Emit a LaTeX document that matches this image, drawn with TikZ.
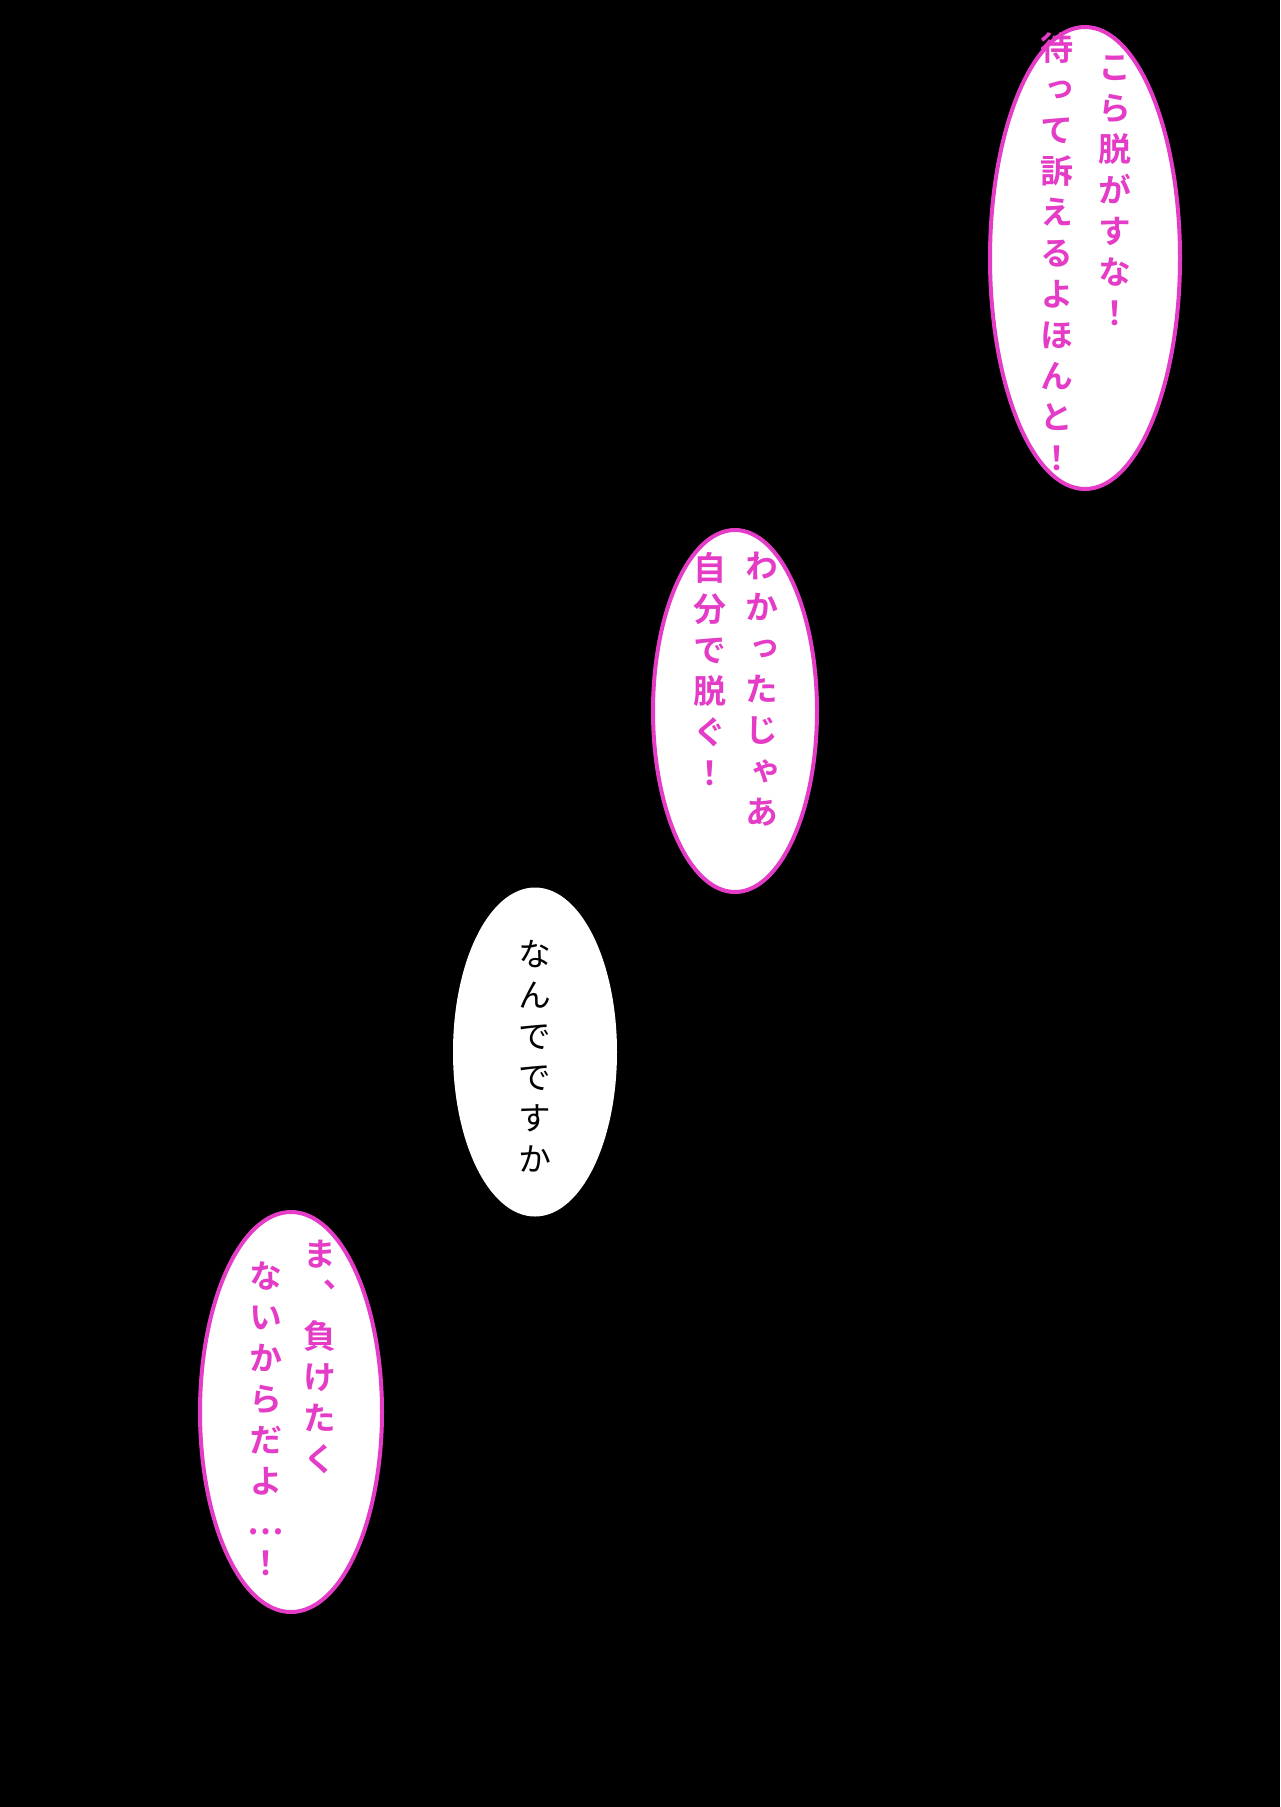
\documentclass[tikz,border=0pt]{standalone}
\usepackage{fontspec}
\newfontfamily\cjkb[RawFeature=+vert]{Noto Sans CJK JP Bold}
\newfontfamily\cjkr[RawFeature=+vert]{Noto Sans CJK JP}
\definecolor{pk}{HTML}{E43CC6}
\tikzset{
 bub/.style={draw=pk,line width=4pt,fill=white,ellipse,minimum width=#1},
 col/.style={anchor=north,align=center,inner sep=0pt,font=\cjkb\fontsize{33}{41}\selectfont,text=pk},
 colk/.style={anchor=north,align=center,inner sep=0pt,font=\cjkr\fontsize{33}{41}\selectfont,text=black}
}
\usetikzlibrary{shapes.geometric}
\begin{document}
\begin{tikzpicture}[x=1pt,y=-1pt]
\fill[black] (0,0) rectangle (1280,1807);
\useasboundingbox (0,0) rectangle (1280,1807);
\node[draw=pk,line width=4pt,fill=white,ellipse,minimum width=190pt,minimum height=462pt,inner sep=0pt] (b1) at (1085,258) {};
\node[draw=pk,line width=4pt,fill=white,ellipse,minimum width=164pt,minimum height=362pt,inner sep=0pt] (b2) at (735,711) {};
\node[draw=white,line width=4pt,fill=white,ellipse,minimum width=160pt,minimum height=325pt,inner sep=0pt] (b3) at (535,1052) {};
\node[draw=pk,line width=4pt,fill=white,ellipse,minimum width=182pt,minimum height=400pt,inner sep=0pt] (b4) at (291,1412) {};
\node[col] (t1a) at (1115,55) {こ\\ら\\脱\\が\\す\\な\\！};
\node[col] (t1b) at (1057,32) {待\\っ\\て\\訴\\え\\る\\よ\\ほ\\ん\\と\\！};
\node[col] (t2a) at (762,552) {わ\\か\\っ\\た\\じ\\ゃ\\あ};
\node[col] (t2b) at (710,552) {自\\分\\で\\脱\\ぐ\\！};
\node[colk] (t3) at (535,940) {な\\ん\\で\\で\\す\\か};
\node[col] (t4a) at (320,1240) {ま\\、\\負\\け\\た\\く};
\node[col] (t4b) at (266,1262) {な\\い\\か\\ら\\だ\\よ\\…\\！};
\end{tikzpicture}
\end{document}
